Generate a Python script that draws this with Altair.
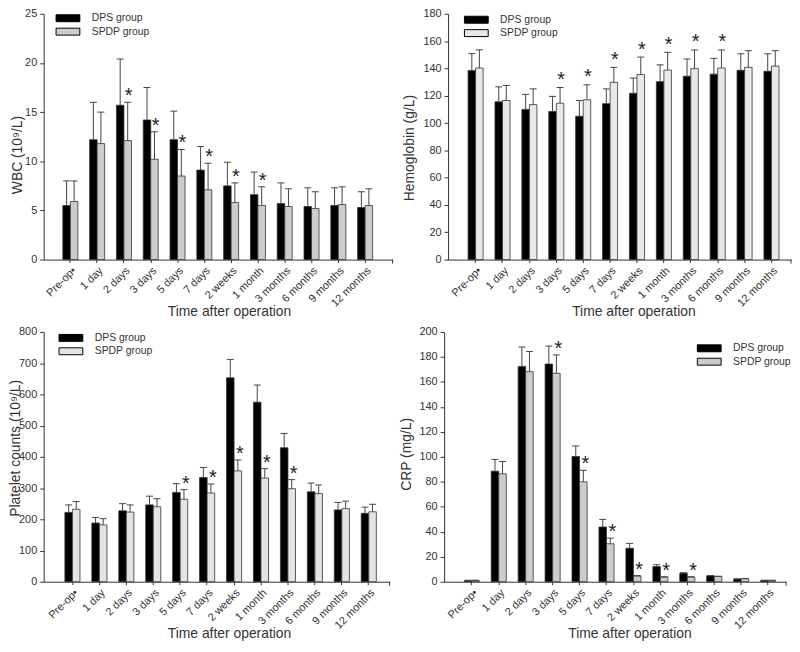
import altair as alt
import pandas as pd

categories = ["Pre-op•", "1 day", "2 days", "3 days", "5 days", "7 days", "2 weeks",
              "1 month", "3 months", "6 months", "9 months", "12 months"]
groups = ["DPS group", "SPDP group"]

# WBC (10^9/L)
wbc_dps = [5.5, 12.2, 15.7, 14.2, 12.2, 9.1, 7.5, 6.6, 5.7, 5.4, 5.5, 5.3]
wbc_dps_upper = [8.0, 16.0, 20.4, 17.5, 15.1, 11.5, 9.9, 8.9, 7.8, 7.3, 7.3, 6.9]
wbc_spdp = [5.9, 11.8, 12.1, 10.2, 8.5, 7.1, 5.8, 5.5, 5.4, 5.2, 5.6, 5.5]
wbc_spdp_upper = [8.0, 15.0, 16.0, 13.0, 11.2, 9.8, 7.8, 7.4, 7.2, 6.9, 7.4, 7.2]
wbc_star = ["2 days", "3 days", "5 days", "7 days", "2 weeks", "1 month"]

# Hemoglobin (g/L)
hgb_dps = [138.5, 115.5, 110.0, 108.5, 105.0, 114.2, 121.8, 130.3, 134.3, 135.8, 138.6, 137.9]
hgb_dps_upper = [150.8, 126.5, 121.0, 119.5, 116.5, 125.0, 132.9, 142.6, 146.9, 147.4, 150.7, 150.7]
hgb_spdp = [140.3, 116.5, 113.5, 114.5, 117.0, 129.8, 135.5, 138.8, 139.8, 140.3, 140.8, 141.7]
hgb_spdp_upper = [153.6, 127.5, 125.0, 126.0, 128.0, 140.7, 148.3, 151.8, 153.5, 153.5, 153.0, 153.0]
hgb_star = ["3 days", "5 days", "7 days", "2 weeks", "1 month", "3 months", "6 months"]

# Platelet counts (10^9/L)
plt_dps = [222, 188, 227, 246, 286, 334, 653, 575, 429, 288, 230, 219]
plt_dps_upper = [246, 206, 250, 274, 314, 366, 712, 630, 475, 316, 254, 239]
plt_spdp = [232, 182, 223, 240, 264, 284, 355, 332, 298, 282, 234, 224]
plt_spdp_upper = [257, 202, 246, 266, 295, 313, 390, 362, 327, 310, 258, 248]
plt_star = ["5 days", "7 days", "2 weeks", "1 month", "3 months"]

# CRP (mg/L)
crp_dps = [0.8, 88.5, 172.4, 174.3, 100.3, 43.8, 26.8, 12.1, 6.8, 4.7, 2.1, 1.0]
crp_dps_upper = [1.2, 97.9, 187.9, 188.7, 108.7, 49.9, 30.7, 13.6, 7.2, 4.9, 2.3, 1.2]
crp_spdp = [0.9, 86.4, 168.2, 166.9, 80.0, 30.4, 4.5, 3.7, 3.7, 4.2, 2.4, 1.0]
crp_spdp_upper = [1.2, 96.3, 184.3, 181.6, 89.2, 34.9, 4.9, 4.0, 4.0, 4.4, 2.6, 1.2]
crp_star = ["3 days", "5 days", "7 days", "2 weeks", "1 month", "3 months"]

FONT = "Liberation Sans, Arial, sans-serif"
TXT = "#333333"
LEG_PATH = "M-2.4,-0.7H2.4V0.7H-2.4Z"


def make_df(dps, dps_up, spdp, spdp_up, stars):
    rows = []
    for i, c in enumerate(categories):
        rows.append(dict(cat=c, grp=groups[0], mean=dps[i], upper=dps_up[i], star=""))
        rows.append(dict(cat=c, grp=groups[1], mean=spdp[i], upper=spdp_up[i],
                         star="*" if c in stars else ""))
    return pd.DataFrame(rows)


def panel(df, ytitle, ymax, ystep, spdp_color, width, height, po, align,
          leg_x, leg_y, ytitle_x, ytitle_y, star_dy, star_dx, xtitle_y):
    x_enc = alt.X(
        "cat:N", sort=categories,
        scale=alt.Scale(paddingInner=0.44, paddingOuter=po, align=align),
        axis=alt.Axis(title="Time after operation", labelAngle=315, tickSize=3,
                      titleX=187, titleY=xtitle_y, titleBaseline="middle",
                      titleAlign="center", titleFontSize=14, labelFontSize=11),
    )
    xo = alt.XOffset("grp:N", sort=groups, scale=alt.Scale(paddingInner=0, paddingOuter=0))
    yscale = alt.Scale(domain=[0, ymax], nice=False)
    yaxis = alt.Axis(title=ytitle, values=list(range(0, ymax + 1, ystep)),
                     labelOverlap=False, tickCount=len(range(0, ymax + 1, ystep)),
                     titleX=ytitle_x, titleY=ytitle_y, titleAngle=270,
                     titleBaseline="middle", titleAlign="center",
                     titleFontSize=14, labelFontSize=11, tickSize=4, labelPadding=3)
    base = alt.Chart(df)
    bars = base.mark_bar(stroke="#333333", strokeWidth=0.8).encode(
        x=x_enc, xOffset=xo,
        y=alt.Y("mean:Q", scale=yscale, axis=yaxis),
        fill=alt.Fill("grp:N", sort=groups,
                      scale=alt.Scale(domain=groups, range=["#000000", spdp_color]),
                      legend=alt.Legend(title=None, orient="none", legendX=leg_x, legendY=leg_y,
                                        symbolType=LEG_PATH, symbolSize=100,
                                        symbolOffset=7,
                                        symbolStrokeColor="#000000", symbolStrokeWidth=1,
                                        symbolOpacity=1, labelFontSize=10.5, labelFont=FONT,
                                        labelColor=TXT, labelOffset=18.5, padding=0,
                                        rowPadding=2.5)),
    )
    err = base.mark_rule(color="#444444", strokeWidth=1).encode(
        x=x_enc, xOffset=xo, y=alt.Y("mean:Q", scale=yscale, axis=yaxis), y2="upper:Q")
    cap = base.mark_point(shape="M-1,0L1,0", filled=False, size=49, stroke="#444444",
                          strokeWidth=1, opacity=1).encode(
        x=x_enc, xOffset=xo, y=alt.Y("upper:Q", scale=yscale, axis=yaxis))
    stars = base.transform_filter(alt.datum.star != "").mark_text(
        fontSize=20, font=FONT, color="#222222", baseline="alphabetic",
        dy=star_dy, dx=star_dx).encode(
        x=x_enc, xOffset=xo, y=alt.Y("upper:Q", scale=yscale, axis=yaxis), text="star:N")
    endtick = alt.Chart(pd.DataFrame({"k": [0]})).mark_rule(color=TXT, strokeWidth=1).encode(
        x=alt.value(width), y=alt.value(height), y2=alt.value(height + 4))
    return alt.layer(bars, err, cap, stars, endtick).properties(width=width, height=height)


p1 = panel(make_df(wbc_dps, wbc_dps_upper, wbc_spdp, wbc_spdp_upper, wbc_star),
           "WBC (10⁹/L)", 25, 5, "#cccccc", 352, 248, 0.73, 0.49, 12, -1, -26, 142, 0, 1, 52)
p2 = panel(make_df(hgb_dps, hgb_dps_upper, hgb_spdp, hgb_spdp_upper, hgb_star),
           "Hemoglobin (g/L)", 180, 20, "#e8e8e8", 346, 248, 0.595, 0.625, 16, 0.5, -39, 135, -1.5, 1, 52)
p3 = panel(make_df(plt_dps, plt_dps_upper, plt_spdp, plt_spdp_upper, plt_star),
           "Platelet counts (10⁹/L)", 800, 100, "#e4e4e4", 349, 252, 0.64, 0.615, 15, 0.5, -28, 117, 0, 2, 52)
p4 = panel(make_df(crp_dps, crp_dps_upper, crp_spdp, crp_spdp_upper, crp_star),
           "CRP (mg/L)", 200, 20, "#cccccc", 345, 252, 0.567, 0.66, 255, 11, -38, 123, 0, 2, 52)

top = alt.hconcat(p1, p2, spacing=8).resolve_scale(fill="independent", xOffset="independent").resolve_legend(fill="independent")
bottom = alt.hconcat(p3, p4, spacing=8).resolve_scale(fill="independent", xOffset="independent").resolve_legend(fill="independent")

chart = alt.vconcat(top, bottom, spacing=6).resolve_scale(
    fill="independent", xOffset="independent").resolve_legend(fill="independent").properties(
    padding={"top": -4, "left": 0, "right": 0, "bottom": 0}).configure_view(
    stroke="transparent").configure_axis(
    domainColor=TXT, tickColor=TXT, labelColor=TXT, titleColor=TXT,
    labelFont=FONT, titleFont=FONT, titleFontWeight="normal", grid=False
).configure_axisY(labelOverlap=False).configure_text(font=FONT)

chart.save("out.html", embed_options={"renderer": "svg", "actions": False})
